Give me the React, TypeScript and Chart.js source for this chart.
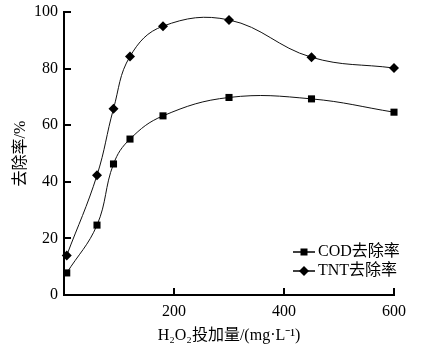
import React, { useEffect, useRef } from "react";
import { Chart, registerables } from "chart.js";

Chart.register(...registerables);

const doseX = [5, 60, 90, 120, 180, 300, 450, 600];
const codRemoval = [7.8, 24.7, 46.3, 55.1, 63.3, 69.8, 69.3, 64.6];
const tntRemoval = [14, 42.3, 65.8, 84.3, 95, 97.2, 84, 80.2];
const xTicks = [200, 400, 600];
const yTicks = [0, 20, 40, 60, 80, 100];
const seriesNames = ["COD去除率", "TNT去除率"];

const SERIF = '"Liberation Serif", "Times New Roman", "Noto Sans CJK SC", serif';

const innerTicks = {
  id: "innerTicks",
  afterDatasetsDraw(chart: any) {
    const { ctx, chartArea, scales } = chart;
    ctx.save();
    ctx.strokeStyle = "#000";
    ctx.lineWidth = 2;
    const tl = 7;
    for (const v of yTicks) {
      const y = Math.round(scales.y.getPixelForValue(v));
      ctx.beginPath();
      ctx.moveTo(chartArea.left, y);
      ctx.lineTo(chartArea.left + tl, y);
      ctx.stroke();
    }
    for (const v of xTicks) {
      const x = Math.round(scales.x.getPixelForValue(v));
      ctx.beginPath();
      ctx.moveTo(x, chartArea.bottom);
      ctx.lineTo(x, chartArea.bottom - tl);
      ctx.stroke();
    }
    ctx.restore();
  },
};

const customLegend = {
  id: "customLegend",
  afterDraw(chart: any) {
    const { ctx, chartArea } = chart;
    ctx.save();
    const x0 = chartArea.right - 101;
    const rows = [chartArea.bottom - 43, chartArea.bottom - 24];
    rows.forEach((y, i) => {
      ctx.strokeStyle = "#000";
      ctx.lineWidth = 1.5;
      ctx.beginPath();
      ctx.moveTo(x0, y);
      ctx.lineTo(x0 + 22, y);
      ctx.stroke();
      ctx.fillStyle = "#000";
      const cx = x0 + 11;
      if (i === 0) {
        ctx.fillRect(cx - 3.5, y - 3.5, 7, 7);
      } else {
        ctx.beginPath();
        ctx.moveTo(cx, y - 5);
        ctx.lineTo(cx + 5, y);
        ctx.lineTo(cx, y + 5);
        ctx.lineTo(cx - 5, y);
        ctx.closePath();
        ctx.fill();
      }
      ctx.font = "16px " + SERIF;
      ctx.textBaseline = "middle";
      ctx.textAlign = "left";
      ctx.fillText(seriesNames[i], x0 + 25, y);
    });
    ctx.restore();
  },
};

export default function App() {
  const ref = useRef<HTMLCanvasElement>(null);
  useEffect(() => {
    const canvas = ref.current!;
    const mk = (vals: number[]) => doseX.map((x, i) => ({ x, y: vals[i] }));
    const chart = new Chart(canvas, {
      type: "line",
      data: {
        datasets: [
          {
            label: seriesNames[0],
            data: mk(codRemoval),
            borderColor: "#111",
            backgroundColor: "#000",
            borderWidth: 1,
            pointStyle: "rect",
            pointRadius: 5,
            pointBorderWidth: 0,
            tension: 0.4,
          },
          {
            label: seriesNames[1],
            data: mk(tntRemoval),
            borderColor: "#111",
            backgroundColor: "#000",
            borderWidth: 1,
            pointStyle: "rectRot",
            pointRadius: 5,
            pointBorderWidth: 0,
            tension: 0.4,
          },
        ],
      },
      options: {
        animation: false,
        responsive: false,
        clip: false as any,
        layout: { padding: { top: 12, right: 33, left: 0, bottom: 0 } },
        plugins: { legend: { display: false }, tooltip: { enabled: false } },
        scales: {
          x: {
            type: "linear",
            min: 0,
            max: 600,
            afterBuildTicks: (s: any) => {
              s.ticks = xTicks.map((v) => ({ value: v }));
            },
            grid: { display: false, drawTicks: false },
            border: { display: true, color: "#000", width: 2 },
            ticks: { color: "#000", font: { family: SERIF, size: 16 }, padding: 7, maxRotation: 0 },
            title: {
              display: true,
              text: "H₂O₂投加量/(mg·L⁻¹)",
              color: "#000",
              font: { family: SERIF, size: 16 },
              padding: { top: 4, bottom: 8 },
            },
            afterFit: (s: any) => {
              s.height = 58;
              s.paddingLeft = 0;
              s.paddingRight = 0;
            },
          },
          y: {
            min: 0,
            max: 100,
            afterBuildTicks: (s: any) => {
              s.ticks = yTicks.map((v) => ({ value: v }));
            },
            grid: { display: false, drawTicks: false },
            border: { display: true, color: "#000", width: 2 },
            ticks: { color: "#000", font: { family: SERIF, size: 16 }, padding: 6 },
            title: {
              display: true,
              text: "去除率/%",
              color: "#000",
              font: { family: SERIF, size: 16 },
              padding: { top: 11, bottom: 0 },
            },
            afterFit: (s: any) => {
              s.width = 64;
              s.paddingTop = 0;
              s.paddingBottom = 0;
            },
          },
        },
      },
      plugins: [innerTicks, customLegend],
    });
    return () => chart.destroy();
  }, []);
  return (
    <div style={{ position: "fixed", left: 0, top: 0, width: 427, height: 353, background: "#fff" }}>
      <canvas ref={ref} width={427} height={353} style={{ width: 427, height: 353 }} />
    </div>
  );
}
